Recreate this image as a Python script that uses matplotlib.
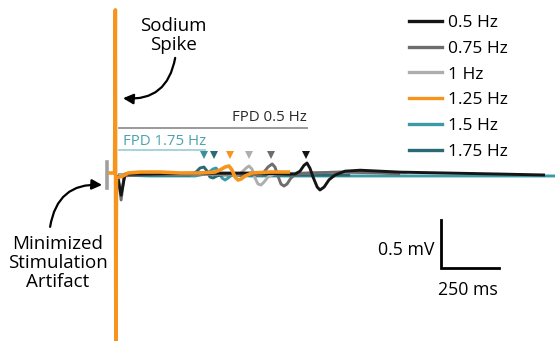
import matplotlib
matplotlib.use("Agg")
import matplotlib.pyplot as plt
from matplotlib.lines import Line2D

plt.rcParams['font.family'] = ['Open Sans', 'DejaVu Sans']

# ---------------- data (time in ms, voltage in mV) ----------------
labels = ["0.5 Hz", "0.75 Hz", "1 Hz", "1.25 Hz", "1.5 Hz", "1.75 Hz"]
colors = ["#151515", "#6d6d6d", "#aeaeae", "#f7941d", "#3c99a6", "#2a6a74"]

t_05 = [7, 24, 41, 149, 364, 580, 774, 795, 812, 825, 838, 851, 869, 881, 899, 920, 946, 989, 1054, 1226, 1442, 1657, 1851]
v_05 = [0, -0.21, 0.01, 0.01, 0.02, 0.02, 0.01, 0.04, 0.10, 0.125, 0.07, -0.02, -0.125, -0.156, -0.125, -0.05, 0, 0.04, 0.05, 0.03, 0.02, 0.01, 0]

t_075 = [11, 24, 37, 149, 364, 580, 623, 640, 657, 675, 687, 700, 713, 726, 739, 756, 778, 838, 968, 1140, 1226]
v_075 = [0, -0.26, -0.01, 0.01, 0.01, 0.01, 0, 0.031, 0.083, 0.115, 0.083, -0.01, -0.094, -0.115, -0.094, -0.031, 0.01, 0.021, 0.031, 0.021, 0.01]

t_1 = [11, 149, 364, 528, 545, 563, 575, 588, 601, 614, 627, 640, 657, 683, 795, 1011, 1256]
v_1 = [0, 0.01, 0.01, 0, 0.031, 0.073, 0.094, 0.0625, -0.031, -0.094, -0.104, -0.073, -0.021, 0.01, 0.021, 0.031, 0.021]

t_125 = [-32, -4, -0.9, 1.3, 4, 15, 32, 54, 106, 192, 278, 364, 429, 450, 472, 489, 502, 515, 528, 541, 558, 588, 666, 752]
v_125 = [0.021, 0.021, 1.72, -1.77, -0.031, -0.021, -0.01, 0.021, 0.031, 0.031, 0.021, 0.021, 0.031, 0.052, 0.083, 0.094, 0.052, -0.021, -0.052, -0.042, -0.01, 0.021, 0.031, 0.031]

t_15 = [11, 149, 343, 386, 403, 420, 433, 446, 459, 472, 485, 502, 580, 795, 1226, 1894]
v_15 = [0, -0.01, -0.01, 0.01, 0.031, 0.0625, 0.073, 0.031, -0.031, -0.052, -0.031, 0, -0.01, -0.01, -0.01, -0.01]

t_175 = [11, 149, 321, 347, 364, 381, 394, 407, 420, 437, 459, 623, 795, 1011]
v_175 = [0, 0, 0, 0.031, 0.073, 0.083, 0.042, -0.021, -0.031, -0.01, 0, 0, 0, 0]

times = [t_05, t_075, t_1, t_125, t_15, t_175]
volts = [v_05, v_075, v_1, v_125, v_15, v_175]

# FPD end markers (ms) per trace
fpd_marker_t = [821, 670, 575, 493, 424, 381]
fpd_marker_colors = ["#151515", "#6d6d6d", "#aeaeae", "#f7941d", "#2a6a74", "#3a8f9c"]

# stimulation artifact
artifact_t = -37
artifact_v = [0.135, -0.135]

# scale bar
scale_mv = 0.5
scale_ms = 250

# ---------------- figure ----------------
fig = plt.figure(figsize=(5.55, 3.41), dpi=100)
ax = fig.add_axes([0, 0, 1, 1])
ax.set_xlim(-498, 1894)
ax.set_ylim(-1.729, 1.823)
ax.axis("off")

lw = 2.1
draw_order = [4, 5, 2, 1, 0, 3]
for i in draw_order:
    lw_i = 2.6 if i == 3 else lw
    ax.plot(times[i], volts[i], color=colors[i], lw=lw_i,
            solid_joinstyle="round", solid_capstyle="butt", zorder=3 + draw_order.index(i))

# artifact bar
ax.plot([artifact_t, artifact_t], artifact_v, color="#a0a0a0", lw=2.6, zorder=2)

# FPD markers
for tm, c in zip(fpd_marker_t, fpd_marker_colors):
    ax.plot([tm], [0.208], marker="v", color=c, markersize=5.5, markeredgewidth=0, zorder=10)

# FPD lines and labels
ax.plot([15, 825], [0.49, 0.49], color="#9a9a9a", lw=1.4, zorder=2)
ax.text(825, 0.60, "FPD 0.5 Hz", ha="right", va="center", fontsize=10.8, color="#2a2a2a")
ax.plot([15, 385], [0.26, 0.26], color="#a6d3d9", lw=1.4, zorder=2)
ax.text(32, 0.344, "FPD 1.75 Hz", ha="left", va="center", fontsize=10.8, color="#4aa3ae")

# annotations
ax.annotate("", xy=(32, 0.80), xytext=(257, 1.22),
            arrowprops=dict(arrowstyle="-|>,head_length=0.6,head_width=0.3", color="black", lw=1.6,
                            connectionstyle="arc3,rad=-0.45", shrinkA=0, shrinkB=0))
ax.text(250, 1.45, "Sodium\nSpike", ha="center", va="center", fontsize=13.5, linespacing=1.05)

ax.annotate("", xy=(-58, -0.104), xytext=(-282, -0.54),
            arrowprops=dict(arrowstyle="-|>,head_length=0.6,head_width=0.3", color="black", lw=1.6,
                            connectionstyle="arc3,rad=-0.45", shrinkA=0, shrinkB=0))
ax.text(-248, -0.92, "Minimized\nStimulation\nArtifact", ha="center", va="center", fontsize=13.5, linespacing=1.08)

# scale bar
sx, sy = 1403, -0.969
ax.plot([sx, sx, sx + scale_ms], [sy + scale_mv, sy, sy], color="black", lw=2.0,
        solid_joinstyle="miter", zorder=5)
ax.text(sx - 30, sy + scale_mv * 0.38, f"{scale_mv} mV", ha="right", va="center", fontsize=12.8)
ax.text(sx + scale_ms / 2 - 8, sy - 0.23, f"{scale_ms} ms", ha="center", va="center", fontsize=12.8)

# legend
handles = [Line2D([0], [0], color=c, lw=2.4) for c in colors]
leg = ax.legend(handles, labels, loc="upper left", bbox_to_anchor=(409 / 555, 1 - 15 / 341),
                frameon=False, fontsize=12.5, handlelength=1.9, handletextpad=0.34,
                labelspacing=0.55, borderaxespad=0, borderpad=0)

fig.savefig("out.png", dpi=100)
